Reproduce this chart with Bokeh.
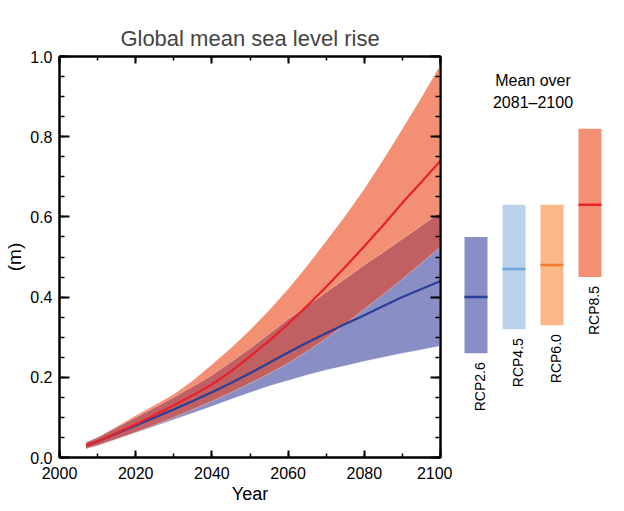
import numpy as np
from math import pi
from bokeh.plotting import figure
from bokeh.layouts import row
from bokeh.models import (Range1d, LinearAxis, SingleIntervalTicker,
                          NumeralTickFormatter, CustomJSTickFormatter, Label)
from bokeh.core.properties import value
from bokeh.embed import file_html
from bokeh.resources import INLINE

# ---------------- data ----------------
years = [2007, 2010, 2015, 2020, 2025, 2030, 2035, 2040, 2045, 2050,
         2055, 2060, 2065, 2070, 2075, 2080, 2085, 2090, 2095, 2100]
rcp26_mean = [0.030, 0.040, 0.060, 0.080, 0.100, 0.120, 0.141, 0.163, 0.186, 0.210,
              0.236, 0.262, 0.287, 0.310, 0.333, 0.355, 0.378, 0.400, 0.420, 0.440]
rcp26_lo   = [0.022, 0.030, 0.046, 0.062, 0.078, 0.095, 0.111, 0.128, 0.145, 0.162,
              0.178, 0.192, 0.206, 0.218, 0.229, 0.240, 0.250, 0.260, 0.269, 0.278]
rcp26_hi   = [0.038, 0.050, 0.075, 0.100, 0.125, 0.150, 0.177, 0.205, 0.238, 0.272,
              0.308, 0.345, 0.378, 0.412, 0.446, 0.480, 0.512, 0.545, 0.578, 0.612]
rcp85_mean = [0.030, 0.040, 0.061, 0.083, 0.106, 0.130, 0.155, 0.182, 0.215, 0.252,
              0.291, 0.333, 0.378, 0.426, 0.475, 0.527, 0.580, 0.635, 0.687, 0.740]
rcp85_lo   = [0.022, 0.030, 0.046, 0.063, 0.081, 0.100, 0.120, 0.140, 0.162, 0.185,
              0.209, 0.235, 0.265, 0.297, 0.332, 0.370, 0.407, 0.445, 0.485, 0.525]
rcp85_hi   = [0.038, 0.050, 0.077, 0.105, 0.131, 0.158, 0.192, 0.232, 0.273, 0.318,
              0.367, 0.420, 0.478, 0.540, 0.603, 0.670, 0.743, 0.820, 0.898, 0.980]

scenarios = ["RCP2.6", "RCP4.5", "RCP6.0", "RCP8.5"]
scen_idx = [0, 1, 2, 3]
scen_mean = [0.40, 0.47, 0.48, 0.63]
scen_lo = [0.26, 0.32, 0.33, 0.45]
scen_hi = [0.55, 0.63, 0.63, 0.82]

title_text = "Global mean sea level rise"
x_label = "Year"
y_label = "(m)"
panel_title = ["Mean over", "2081\u20132100"]

# ---------------- styles ----------------
FONT = "Liberation Sans"
BLUE_BAND = "#898EC4"
RED_BAND = "#F39073"
OVERLAP = "#C06062"
BLUE_LINE = "#2B3F97"
RED_LINE = "#E8202A"
bar_colors = ["#898EC4", "#B9D3EC", "#FAB787", "#F39073"]
mean_colors = ["#2B3F97", "#6FA3DB", "#F07D2D", "#E8202A"]

# ---------------- main plot ----------------
p = figure(width=452, height=511, x_range=Range1d(2000, 2100), y_range=Range1d(0, 1),
           output_backend="svg", toolbar_location=None,
           min_border_left=59, min_border_right=12, min_border_top=56, min_border_bottom=54)
p.title.text = title_text
p.title.text_font = FONT
p.title.text_font_size = "22px"
p.title.text_font_style = "normal"
p.title.align = "center"
p.title.standoff = 12
p.xgrid.visible = False
p.ygrid.visible = False
p.outline_line_color = "black"
p.outline_line_width = 2
p.background_fill_color = "white"
p.border_fill_color = "white"

def style_axis(ax, major_in, minor_in, labels=True):
    ax.axis_line_color = "black"
    ax.axis_line_width = 2
    ax.major_tick_line_color = "black"
    ax.major_tick_line_width = 2
    ax.minor_tick_line_color = "black"
    ax.minor_tick_line_width = 1.5
    ax.major_tick_in = major_in
    ax.major_tick_out = 0
    ax.minor_tick_in = minor_in
    ax.minor_tick_out = 0
    if labels:
        ax.major_label_text_font = FONT
        ax.major_label_text_font_size = "16px"
        ax.major_label_text_color = "black"
        ax.axis_label_text_font = FONT
        ax.axis_label_text_font_style = "normal"
        ax.axis_label_text_color = "black"
    else:
        ax.formatter = CustomJSTickFormatter(code="return ''")
        ax.major_label_text_font_size = "1px"
        ax.major_label_standoff = 0

p.xaxis.ticker = SingleIntervalTicker(interval=20, num_minor_ticks=2)
p.yaxis.ticker = SingleIntervalTicker(interval=0.2, num_minor_ticks=4)
p.yaxis.formatter = NumeralTickFormatter(format="0.0")
style_axis(p.xaxis[0], 7, 4)
style_axis(p.yaxis[0], 10, 5)
p.xaxis.axis_label = x_label
p.xaxis.axis_label_text_font_size = "18px"
p.xaxis.major_label_standoff = 9
p.xaxis.axis_label_standoff = 2
p.yaxis.axis_label = y_label
p.yaxis.axis_label_text_font_size = "19px"
p.yaxis.major_label_standoff = 7
p.yaxis.axis_label_standoff = 2

top_ax = LinearAxis(ticker=SingleIntervalTicker(interval=20, num_minor_ticks=2))
style_axis(top_ax, 7, 4, labels=False)
p.add_layout(top_ax, "above")
right_ax = LinearAxis(ticker=SingleIntervalTicker(interval=0.2, num_minor_ticks=4))
style_axis(right_ax, 10, 5, labels=False)
p.add_layout(right_ax, "right")

yrs = np.array(years)
lo26, hi26 = np.array(rcp26_lo), np.array(rcp26_hi)
lo85, hi85 = np.array(rcp85_lo), np.array(rcp85_hi)

p.varea(x=yrs, y1=lo26, y2=hi26, fill_color=BLUE_BAND)
p.varea(x=yrs, y1=lo85, y2=hi85, fill_color=RED_BAND)
p.varea(x=yrs, y1=np.maximum(lo26, lo85), y2=np.minimum(hi26, hi85), fill_color=OVERLAP)
for edge in (lo26, hi26, lo85, hi85):
    p.line(yrs, edge, line_color="white", line_alpha=0.3, line_width=1)
p.line(yrs, rcp26_mean, line_color=BLUE_LINE, line_width=2.2)
p.line(yrs, rcp85_mean, line_color=RED_LINE, line_width=2.2)

# ---------------- side panel ----------------
q = figure(width=172, height=511, x_range=Range1d(-0.618, 3.908), y_range=p.y_range,
           output_backend="svg", toolbar_location=None,
           min_border_left=0, min_border_right=0, min_border_top=56, min_border_bottom=54)
q.axis.visible = False
q.xgrid.visible = False
q.ygrid.visible = False
q.outline_line_color = None

q.vbar(x=scen_idx, bottom=scen_lo, top=scen_hi, width=0.605, fill_color=bar_colors, line_color=None)
q.rect(x=scen_idx, y=scen_mean, width=0.605, height=2.5, height_units="screen",
       fill_color=mean_colors, line_color=None)
q.text(x=scen_idx, y=scen_lo, text=scenarios, angle=pi / 2,
       text_align="right", text_baseline="middle",
       text_font=value(FONT), text_font_size="14px", text_color="black",
       x_offset=4, y_offset=9)
q.add_layout(Label(x=1.5, y=0.94, text=panel_title[0], text_align="center",
                   text_baseline="middle", text_font=FONT, text_font_size="16px",
                   text_color="black"))
q.add_layout(Label(x=1.5, y=0.885, text=panel_title[1], text_align="center",
                   text_baseline="middle", text_font=FONT, text_font_size="16px",
                   text_color="black"))

layout = row(p, q)
open("out.html", "w").write(file_html(layout, INLINE))
